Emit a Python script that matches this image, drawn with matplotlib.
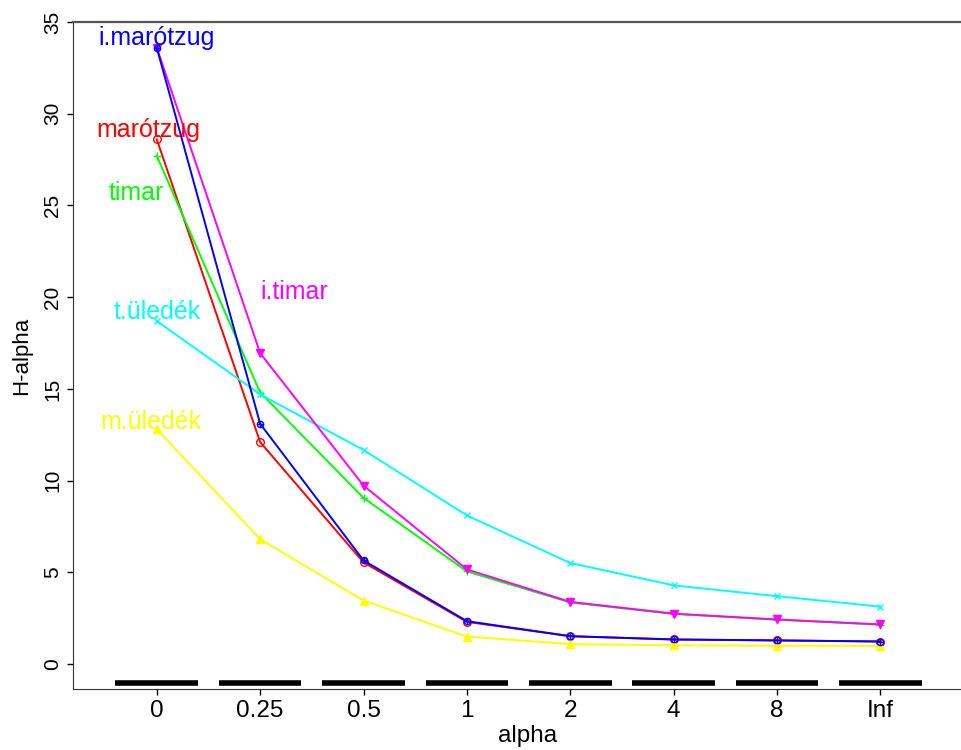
import matplotlib.pyplot as plt
import numpy as np

plt.rcParams['font.family'] = ['Liberation Sans', 'DejaVu Sans']

alpha_labels = ['0', '0.25', '0.5', '1', '2', '4', '8', 'Inf']

i_marotzug = [33.6, 13.1, 5.65, 2.34, 1.52, 1.34, 1.29, 1.23]
marotzug = [28.6, 12.1, 5.54, 2.30, 1.52, 1.34, 1.29, 1.23]
timar = [27.7, 14.8, 9.06, 5.05, 3.36, 2.73, 2.42, 2.15]
i_timar = [33.6, 16.95, 9.73, 5.16, 3.39, 2.75, 2.43, 2.16]
t_uledek = [18.7, 14.7, 11.67, 8.1, 5.51, 4.29, 3.70, 3.13]
m_uledek = [12.8, 6.81, 3.46, 1.50, 1.09, 1.02, 1.0, 0.99]

x = np.arange(len(alpha_labels))

fig = plt.figure(figsize=(9.61, 7.5), dpi=100)
ax = fig.add_axes([0.076, 0.0813, 0.924, 0.8894])

lw = 1.4
ax.plot(x, marotzug, color='red', lw=lw, marker='o', ms=5.5, mfc='none', mew=1.0)
ax.plot(x, timar, color='#00ff00', lw=lw, marker='+', ms=6, mew=1.0)
ax.plot(x, t_uledek, color='cyan', lw=lw, marker='x', ms=4.5, mew=1.0)
ax.plot(x, m_uledek, color='yellow', lw=lw, marker='^', ms=5.5, mew=1.0)
ax.plot(x, i_timar, color='magenta', lw=lw, marker='v', ms=5.5, mew=1.0)
ax.plot(x, i_marotzug, color='blue', lw=lw, marker='o', ms=4.5, mfc='none', mew=1.0)
ax.plot(x, i_marotzug, color='blue', lw=0, marker='+', ms=4.5, mew=0.9)

# horizontal bars below the curves
ax.hlines([-1.03] * len(x), x - 0.4, x + 0.4, color='black', lw=4)

fs = 18
ax.text(0.0, 34.1, 'i.marótzug', color='blue', ha='center', va='center', fontsize=fs)
ax.text(-0.08, 29.1, 'marótzug', color='red', ha='center', va='center', fontsize=fs)
ax.text(-0.2, 25.7, 'timar', color='#00ff00', ha='center', va='center', fontsize=fs)
ax.text(1.33, 20.3, 'i.timar', color='magenta', ha='center', va='center', fontsize=fs)
ax.text(0.0, 19.2, 't.üledék', color='cyan', ha='center', va='center', fontsize=fs)
ax.text(-0.06, 13.2, 'm.üledék', color='yellow', ha='center', va='center', fontsize=fs)

ax.set_xlim(-0.81, 7.78)
ax.set_ylim(-1.36, 34.95)
ax.set_xticks(x)
ax.set_xticklabels(alpha_labels)
ax.set_yticks([0, 5, 10, 15, 20, 25, 30, 35])
for lab in ax.get_yticklabels():
    lab.set_rotation(90)
    lab.set_va('center')
ax.tick_params(length=4, width=1, direction='out')
ax.tick_params(axis='x', labelsize=17.5, pad=4)
ax.tick_params(axis='y', labelsize=15, pad=3.6)
ax.set_xlabel('alpha', fontsize=17.5)
ax.set_ylabel('H-alpha', fontsize=16)
ax.xaxis.set_label_coords(0.512, -0.0705)
ax.xaxis.label.set_va('center')
ax.yaxis.set_label_coords(-0.0574, 0.5)
ax.yaxis.label.set_va('center')

ax.spines['right'].set_visible(False)
ax.spines['top'].set_color('#555555')
ax.spines['top'].set_linewidth(1.6)
ax.spines['left'].set_color('#333333')
ax.spines['bottom'].set_color('#333333')

fig.savefig('out.png', dpi=100)
